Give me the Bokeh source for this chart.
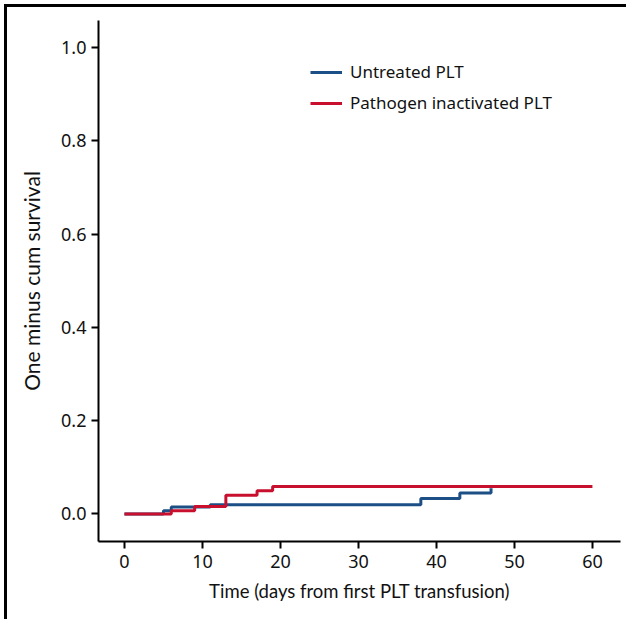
from bokeh.plotting import figure
from bokeh.models import Range1d, FixedTicker, Legend, LegendItem
from bokeh.embed import file_html
from bokeh.resources import INLINE

# Data
untreated_days = [0, 5, 6, 11, 38, 43, 47]
untreated_vals = [0.0, 0.007, 0.015, 0.020, 0.033, 0.045, 0.055]
pi_days = [0, 6, 9, 13, 17, 19, 60]
pi_vals = [0.0, 0.007, 0.016, 0.040, 0.050, 0.059, 0.059]
x_ticks = [0, 10, 20, 30, 40, 50, 60]
y_ticks = [0.0, 0.2, 0.4, 0.6, 0.8, 1.0]
series_names = ["Untreated PLT", "Pathogen inactivated PLT"]
colors = ["#1b4f86", "#c8102e"]

TICK_FONT = "Noto Sans"
LABEL_FONT = "Lato"

p = figure(width=622, height=615, output_backend="svg", toolbar_location=None,
           x_range=Range1d(-3.33, 63.6), y_range=Range1d(-0.059, 1.058),
           min_border_left=91, min_border_right=9, min_border_top=13, min_border_bottom=81,
           styles={"position": "absolute", "left": "4px", "top": "4px",
                   "border-top": "3px solid black", "border-left": "3px solid black"})
p.outline_line_color = None
p.grid.visible = False
p.background_fill_color = "white"
p.border_fill_color = "white"

r1 = p.step(untreated_days, untreated_vals, mode="after", line_color=colors[0], line_width=3)
r2 = p.step(pi_days, pi_vals, mode="after", line_color=colors[1], line_width=3)

for ax in (p.xaxis[0], p.yaxis[0]):
    ax.axis_line_width = 2
    ax.axis_line_color = "black"
    ax.major_tick_line_width = 2
    ax.major_tick_line_color = "black"
    ax.major_tick_out = 7
    ax.major_tick_in = 0
    ax.minor_tick_line_color = None
    ax.major_label_text_font = TICK_FONT
    ax.major_label_text_font_size = "18px"
    ax.major_label_text_color = "#111111"
    ax.axis_label_text_font = LABEL_FONT
    ax.axis_label_text_font_style = "normal"
    ax.axis_label_text_color = "#111111"

p.xaxis.axis_label_text_font_size = "18.5px"
p.yaxis.axis_label_text_font_size = "21px"
p.xaxis.ticker = FixedTicker(ticks=x_ticks)
p.yaxis.ticker = FixedTicker(ticks=y_ticks)
p.yaxis.major_label_overrides = {t: f"{t:.1f}" for t in y_ticks}
p.xaxis.axis_label = "Time (days from first PLT transfusion)"
p.yaxis.axis_label = "One minus cum survival"
p.xaxis.major_label_standoff = 6
p.yaxis.major_label_standoff = 5
p.xaxis.axis_label_standoff = 9
p.yaxis.axis_label_standoff = 14

legend = Legend(items=[LegendItem(label=series_names[0], renderers=[r1]),
                       LegendItem(label=series_names[1], renderers=[r2])],
                location=(212, 427), orientation="vertical")
legend.border_line_color = None
legend.background_fill_alpha = 0
legend.padding = 0
legend.margin = 0
legend.spacing = 8
legend.glyph_width = 32
legend.glyph_height = 20
legend.label_height = 20
legend.label_standoff = 8
legend.label_text_font = TICK_FONT
legend.label_text_font_size = "17px"
legend.label_text_color = "#111111"
p.add_layout(legend)

open("out.html", "w").write(file_html(p, INLINE))
